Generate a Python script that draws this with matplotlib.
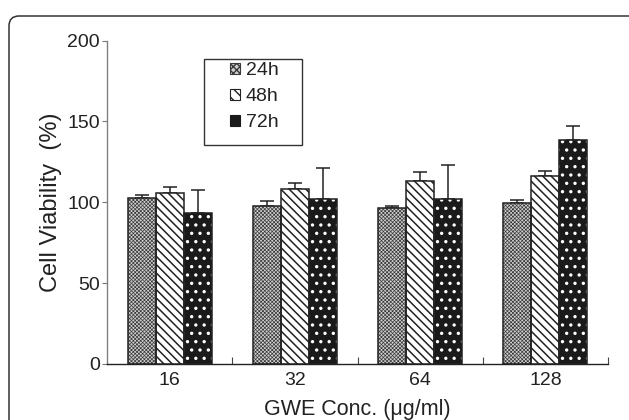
import matplotlib
matplotlib.use("Agg")
import matplotlib.pyplot as plt
import numpy as np
from matplotlib.patches import FancyBboxPatch, Patch, Rectangle
from matplotlib.transforms import IdentityTransform

# ---- data ----
categories = ["16", "32", "64", "128"]
series_names = ["24h", "48h", "72h"]
vals_24h = [102.7, 97.5, 96.5, 99.3]
err_24h = [2.0, 3.5, 1.0, 2.0]
vals_48h = [105.7, 108.2, 113.4, 116.5]
err_48h = [4.0, 3.5, 5.0, 2.5]
vals_72h = [93.4, 102.0, 102.0, 138.3]
err_72h = [14.0, 19.0, 21.0, 9.0]
y_ticks = [0, 50, 100, 150, 200]

plt.rcParams['font.family'] = ['Liberation Sans', 'DejaVu Sans']

fig = plt.figure(figsize=(6.29, 4.20), dpi=100)
ax = fig.add_axes([107/629, 1-363.9/420, 501/629, (363.9-40.5)/420])

x = np.arange(len(categories))
w = 0.223
offsets = [-w, 0, w]
ink = '#222222'

# 24h: fine grey checker
with plt.rc_context({'hatch.linewidth': 0.5}):
    ax.bar(x + offsets[0], vals_24h, w, facecolor='#cfcfcf', edgecolor='#3a3a3a',
           hatch='xxxxxxxxx', linewidth=0, zorder=2)
# 48h: diagonal lines
with plt.rc_context({'hatch.linewidth': 1.1}):
    ax.bar(x + offsets[1], vals_48h, w, facecolor='white', edgecolor='#222222',
           hatch='\\\\\\\\', linewidth=0, zorder=2)
# 72h: black with white dots
with plt.rc_context({'hatch.linewidth': 1.2}):
    ax.bar(x + offsets[2], vals_72h, w, facecolor='#1a1a1a', edgecolor='white',
           hatch='..', linewidth=0, zorder=2)

for off, vals, err in zip(offsets, [vals_24h, vals_48h, vals_72h], [err_24h, err_48h, err_72h]):
    ax.bar(x + off, vals, w, fill=False, edgecolor=ink, linewidth=1.1, zorder=3)
    ax.errorbar(x + off, vals, yerr=[np.zeros(len(err)), err], fmt='none',
                ecolor=ink, elinewidth=1.1, capsize=5, capthick=1.1, zorder=1)

ax.set_xlim(-0.5, 3.5)
ax.set_ylim(0, 200)
ax.set_yticks(y_ticks)
ax.set_xticks(x)
ax.set_xticklabels(categories)
ax.set_xticks(np.arange(0.5, len(categories), 1.0), minor=True)
ax.tick_params(axis='x', which='major', length=0, labelsize=14, pad=6, labelcolor=ink)
ax.tick_params(axis='x', which='minor', direction='in', length=5, width=0.8, color='#444444')
ax.tick_params(axis='y', direction='out', length=3.5, width=0.8, color='#777777',
               labelsize=14, pad=1.5, labelcolor=ink)

for s in ['top', 'right']:
    ax.spines[s].set_visible(False)
ax.spines['left'].set_color('#808080')
ax.spines['left'].set_linewidth(1.0)
ax.spines['bottom'].set_color(ink)
ax.spines['bottom'].set_linewidth(1.0)

ax.set_ylabel("Cell Viability  (%)", fontsize=17, color=ink, labelpad=4)
ax.set_xlabel("GWE Conc. (\u03bcg/ml)", fontsize=15.5, color=ink, labelpad=7)

handles = [
    Patch(facecolor='#cfcfcf', edgecolor='#3a3a3a', hatch='xxxxx', linewidth=0.8),
    Patch(facecolor='white', edgecolor='#222222', hatch='\\\\\\', linewidth=0.8),
    Patch(facecolor='#1a1a1a', edgecolor='#1a1a1a', linewidth=0.8),
]
leg = ax.legend(handles, series_names, loc='upper left',
                bbox_to_anchor=(0.2455, 0.932), fontsize=14, frameon=False,
                handlelength=0.5, handleheight=0.5, handletextpad=0.3,
                labelspacing=0.45, borderpad=0, borderaxespad=0)
for t in leg.get_texts():
    t.set_color(ink)
ax.add_patch(Rectangle((0.1936, 0.677), 0.389-0.1936, 0.943-0.677,
                       transform=ax.transAxes, fill=False, edgecolor='#333333',
                       linewidth=1.0, zorder=5))

border = FancyBboxPatch((9, -20), 640, 424, boxstyle="round,pad=0,rounding_size=10",
                        transform=IdentityTransform(), fill=False,
                        edgecolor='#333333', linewidth=1.1)
fig.add_artist(border)

fig.savefig("out.png", dpi=100)
